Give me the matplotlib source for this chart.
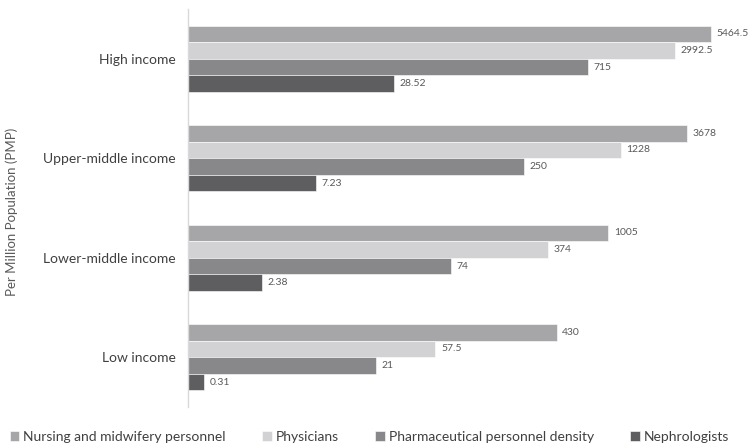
import matplotlib.pyplot as plt
import numpy as np

plt.rcParams["font.family"] = ["Lato", "DejaVu Sans"]

categories = ["High income", "Upper-middle income", "Lower-middle income", "Low income"]
series_names = [
    "Nursing and midwifery personnel",
    "Physicians",
    "Pharmaceutical personnel density",
    "Nephrologists",
]
nursing = [5464.5, 3678, 1005, 430]
physicians = [2992.5, 1228, 374, 57.5]
pharma = [715, 250, 74, 21]
nephro = [28.52, 7.23, 2.38, 0.31]

nursing_lbl = ["5464.5", "3678", "1005", "430"]
physicians_lbl = ["2992.5", "1228", "374", "57.5"]
pharma_lbl = ["715", "250", "74", "21"]
nephro_lbl = ["28.52", "7.23", "2.38", "0.31"]

colors = ["#a6a6a8", "#d2d2d4", "#88888b", "#5e5e61"]
text_col = "#595959"


def fwd(x):
    return np.log10(1 + np.clip(x, 0, None))


def inv(y):
    return 10 ** y - 1


fig = plt.figure(figsize=(7.51, 4.47), dpi=100)
ax = fig.add_axes([188 / 751, 1 - 407 / 447, 560 / 751, 398 / 447])
ax.set_xscale("function", functions=(fwd, inv))

ypos = np.arange(len(categories))[::-1]
h = 0.1667
offsets = [1.5 * h, 0.5 * h, -0.5 * h, -1.5 * h]
all_vals = [nursing, physicians, pharma, nephro]
all_lbls = [nursing_lbl, physicians_lbl, pharma_lbl, nephro_lbl]

for vals, lbls, off, col, name in zip(all_vals, all_lbls, offsets, colors, series_names):
    bars = ax.barh(ypos + off, vals, height=h, color=col, label=name,
                   edgecolor="white", linewidth=0.4)
    ax.bar_label(bars, labels=lbls, padding=4, fontsize=7.5, color=text_col)

ax.set_xlim(0, 9999)
ax.set_ylim(-0.5, 3.5)
ax.set_yticks(ypos)
ax.set_yticklabels(categories, fontsize=10, color="#404040")
ax.tick_params(axis="y", length=0, pad=9)
ax.set_xticks([])
ax.xaxis.set_minor_locator(plt.NullLocator())
for s in ["top", "right", "bottom"]:
    ax.spines[s].set_visible(False)
ax.spines["left"].set_color("#d9d9d9")
ax.spines["left"].set_linewidth(1)

fig.text(12 / 751, 1 - 212 / 447, "Per Million Population (PMP)", rotation=90,
         ha="center", va="center", fontsize=9.5, color=text_col)

leg = fig.legend(loc="center left", bbox_to_anchor=(-3 / 751, 1 - 437 / 447), ncol=4,
                 frameon=False, fontsize=10, handlelength=0.7, handleheight=0.7,
                 handletextpad=0.3, columnspacing=2.6, labelcolor="#404040")

fig.savefig("out.png", dpi=100)
